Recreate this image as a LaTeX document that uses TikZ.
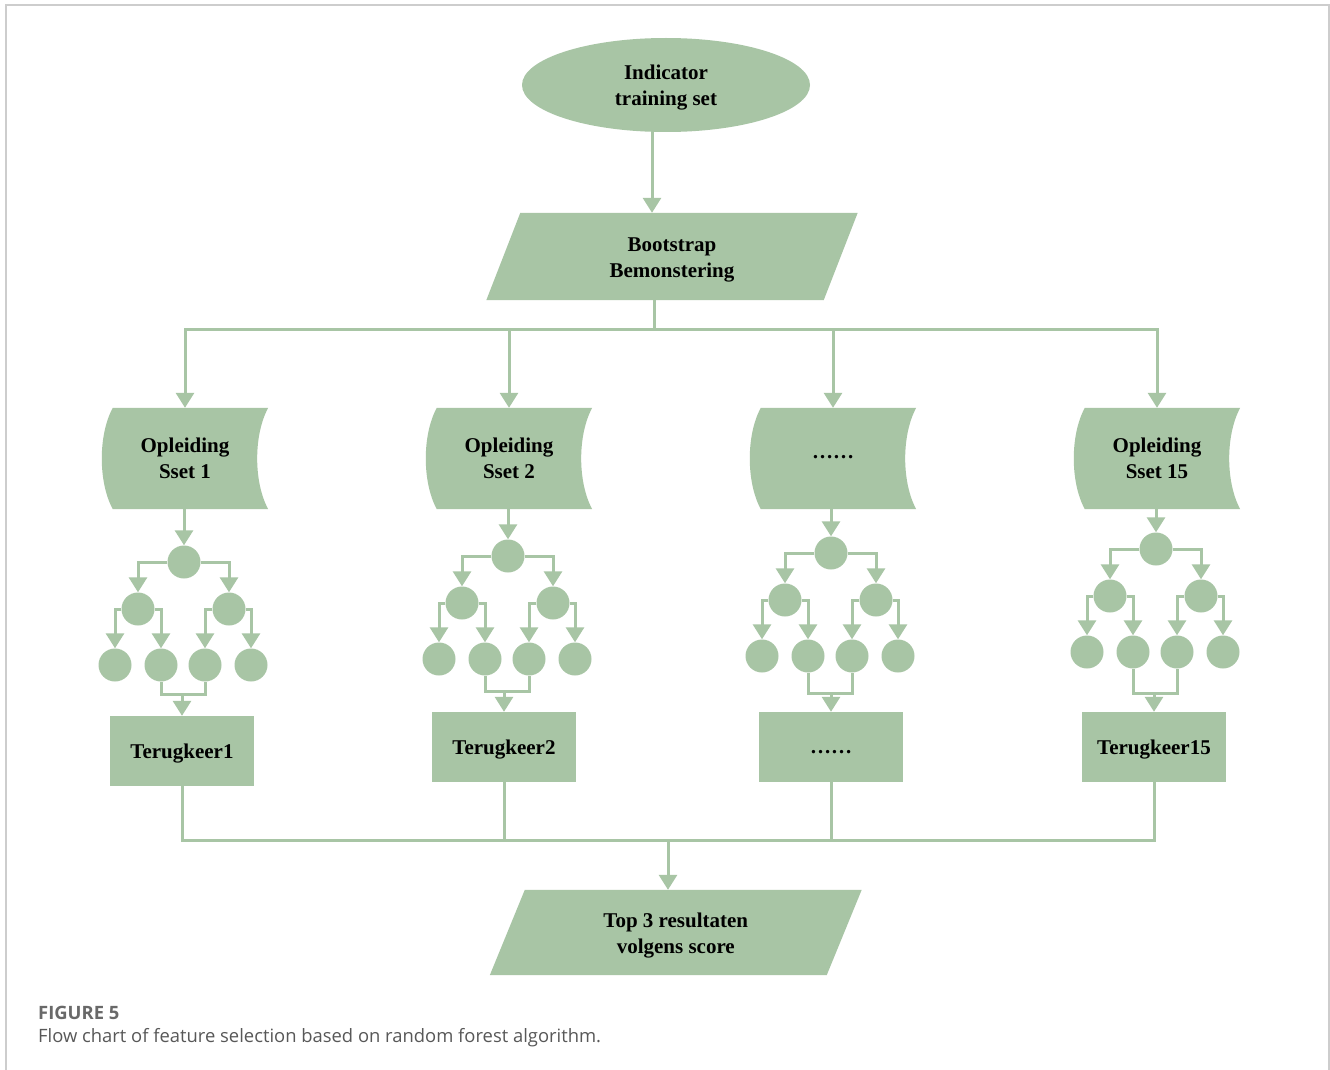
\documentclass[tikz,border=0pt]{standalone}
\usepackage{fontspec}
\setmainfont{Liberation Serif}
\newfontfamily\capfont{Open Sans}
\usetikzlibrary{arrows.meta,shapes.geometric,backgrounds,calc}
\definecolor{gc}{RGB}{168,197,165}
\definecolor{capgray}{RGB}{88,88,88}
\definecolor{framegray}{RGB}{205,205,205}
\newcommand\lowstrut{\rule{0pt}{20pt}}

\newcommand\slotshape[1]{%
  \begin{pgfonlayer}{background}
    \fill[gc] ($(#1.north west)+(11,0)$) -- (#1.north east)
      .. controls +(-14.7,27) and +(-14.7,-27) .. (#1.south east)
      -- ($(#1.south west)+(11,0)$)
      .. controls +(-14.7,-27) and +(-14.7,27) .. ($(#1.north west)+(11,0)$) -- cycle;
  \end{pgfonlayer}}

\newcommand\parashape[2]{%
  \begin{pgfonlayer}{background}
    \fill[gc] ($(#1.north west)+(#2,0)$) -- ($(#1.north east)+(#2,0)$)
      -- ($(#1.south east)+(-#2,0)$) -- ($(#1.south west)+(-#2,0)$) -- cycle;
  \end{pgfonlayer}}

% #1 id, #2 root x, #3 root y, #4 join y, #5 box cx, #6 box cy, #7 box text
\newcommand\treecol[7]{%
  \node[dot] (r#1) at (#2,#3) {};
  \node[dot] (a#1) at (#2-46,#3+47) {};
  \node[dot] (b#1) at (#2+45,#3+47) {};
  \node[dot] (p#1) at (#2-69,#3+103) {};
  \node[dot] (q#1) at (#2-23,#3+103) {};
  \node[dot] (u#1) at (#2+21,#3+103) {};
  \node[dot] (v#1) at (#2+67,#3+103) {};
  \draw[arr] (r#1) -| (a#1);
  \draw[arr] (r#1) -| (b#1);
  \draw[arr] (a#1) -| (p#1);
  \draw[arr] (a#1) -| (q#1);
  \draw[arr] (b#1) -| (u#1);
  \draw[arr] (b#1) -| (v#1);
  \node[box] (t#1) at (#5,#6) {#7};
  \coordinate (j#1) at (#5,#4);
  \draw[conn] (q#1) |- (j#1) -| (u#1);
  \draw[arr] (j#1) -- (t#1);
}

\begin{document}
\begin{tikzpicture}[x=1pt,y=-1pt,
  conn/.style={draw=gc, line width=3pt},
  arr/.style={conn, -{Triangle[width=18pt,length=15pt]}},
  lbl/.style={font=\bfseries\fontsize{21}{26}\selectfont, align=center, text=black},
  low/.style={execute at begin node={\lowstrut}},
  dot/.style={circle, fill=gc, minimum size=33pt, inner sep=0pt},
  box/.style={lbl, low, fill=gc, minimum width=144pt, minimum height=70pt, inner sep=0pt},
  slot/.style={lbl, minimum width=166pt, minimum height=101pt, inner sep=0pt},
  para/.style={lbl, inner sep=0pt},
  caption/.style={anchor=base west, inner sep=0pt, text=capgray, font=\capfont\fontsize{18.4}{22}\selectfont},
]
\useasboundingbox (0,0) rectangle (1330,1070);
\begin{pgfonlayer}{background}
\fill[white] (0,0) rectangle (1330,1070);
\end{pgfonlayer}
\draw[framegray, line width=1.5pt] (6,1070) -- (6,5) -- (1329,5) -- (1329,1070);

% top
\node[lbl, ellipse, fill=gc, minimum width=288pt, minimum height=94pt, inner sep=0pt] (ind) at (666,85) {\lowstrut Indicator\\training set};
\node[para, minimum width=337pt, minimum height=87pt] (boot) at (672,256.5) {\lowstrut Bootstrap\\Bemonstering};
\parashape{boot}{17}
\coordinate (ax) at (652,0);
\draw[arr] (ind.south -| ax) -- (boot.north -| ax);

% training subsets
\node[slot] (s1) at (185,458.5) {Opleiding\\Sset 1};
\node[slot] (s2) at (509,458.5) {Opleiding\\Sset 2};
\node[slot] (s3) at (833,458.5) {\raisebox{4pt}{……}};
\node[slot] (s4) at (1157,458.5) {Opleiding\\Sset 15};
\foreach \i in {1,...,4} {\slotshape{s\i}}

\coordinate (ba) at (654,329);
\draw[conn] (boot.south -| ba) -- (ba);
\draw[conn, line cap=rect] (ba -| s1) -- (ba -| s4);
\foreach \i in {1,...,4} {\draw[arr] (ba -| s\i.north) -- (s\i.north);}

% trees
\treecol{1}{184}{562}{694}{182}{751}{Terugkeer1}
\treecol{2}{508}{556}{691}{504}{747}{Terugkeer2}
\treecol{3}{831}{553}{693}{831}{747}{\raisebox{4pt}{……}}
\treecol{4}{1156}{549}{693}{1154}{747}{Terugkeer15}
\foreach \i in {1,...,4} {\draw[arr] (s\i.south -| r\i) -- (r\i);}

% bottom
\node[para, minimum width=336.5pt, minimum height=85pt] (top) at (675.75,932.5) {\lowstrut Top 3 resultaten\\volgens score};
\parashape{top}{17.5}
\coordinate (bb) at (668,840);
\draw[conn] (t1.south) |- (t4.south |- bb) -- (t4.south);
\draw[conn] (t2.south) -- (t2.south |- bb);
\draw[conn] (t3.south) -- (t3.south |- bb);
\draw[arr] (bb) -- (bb |- top.north);

% caption
\node[caption, text=capgray!90, font=\capfont\bfseries\fontsize{18.4}{22}\selectfont] (fig) at (38,1019) {FIGURE 5};
\node[caption] (cap) at (38,1042) {Flow chart of feature selection based on random forest algorithm.};
\end{tikzpicture}
\end{document}
